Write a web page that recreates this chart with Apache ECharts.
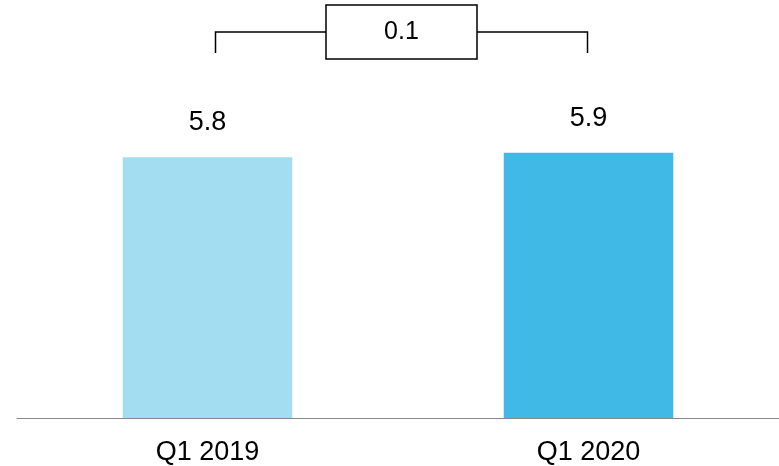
<!DOCTYPE html>
<html>
<head>
<meta charset="utf-8">
<script src="https://cdn.jsdelivr.net/npm/echarts@6/dist/echarts.min.js"></script>
<style>html,body{margin:0;padding:0;background:#fff}#c{width:779px;height:466px}</style>
</head>
<body>
<div id="c"></div>
<script>
const categories = ['Q1 2019', 'Q1 2020'];
const values = [5.8, 5.9];
const barColors = ['#a3ddf2', '#41b9e6'];
const deltaLabel = '0.1';

const chart = echarts.init(document.getElementById('c'), null, {renderer: 'canvas'});
const FONT = 'Liberation Sans, Arial, sans-serif';
chart.setOption({
  animation: false,
  grid: {left: 17, right: 0, top: 0, bottom: 47},
  xAxis: {
    type: 'category', data: categories,
    axisLine: {lineStyle: {color: '#888888', width: 1}},
    axisTick: {show: false},
    axisLabel: {color: '#000', fontSize: 27, fontFamily: FONT, margin: 21}
  },
  yAxis: {type: 'value', min: 0, max: 9.3, show: false, splitLine: {show: false}},
  series: [{
    type: 'bar', barWidth: '44.5%',
    data: values.map((v, i) => ({value: v, itemStyle: {color: barColors[i]}})),
    label: {show: true, position: 'top', distance: 21, color: '#000', fontSize: 27, fontFamily: FONT,
      formatter: p => p.value.toFixed(1)}
  }]
});

function drawBracket() {
  const c0 = chart.convertToPixel({xAxisIndex: 0}, 0);
  const c1 = chart.convertToPixel({xAxisIndex: 0}, 1);
  const xl = c0 + 8, xr = c1 - 1;
  const yh = 32, yv = 53;
  const mid = (xl + xr) / 2;
  const bw = 151, bh = 54;
  const ls = {stroke: '#000', lineWidth: 1.5, fill: null};
  chart.setOption({
    graphic: [
      {type: 'polyline', shape: {points: [[xl, yv], [xl, yh], [mid - bw / 2, yh]]}, style: ls},
      {type: 'polyline', shape: {points: [[xr, yv], [xr, yh], [mid + bw / 2, yh]]}, style: ls},
      {type: 'rect', shape: {x: mid - bw / 2, y: yh - bh / 2, width: bw, height: bh}, style: {stroke: '#000', lineWidth: 1.5, fill: '#fff'}},
      {type: 'text', x: mid, y: yh, style: {text: deltaLabel, fontSize: 25, fontFamily: FONT, fill: '#000', align: 'center', verticalAlign: 'middle'}}
    ]
  });
}
drawBracket();
</script>
</body>
</html>
